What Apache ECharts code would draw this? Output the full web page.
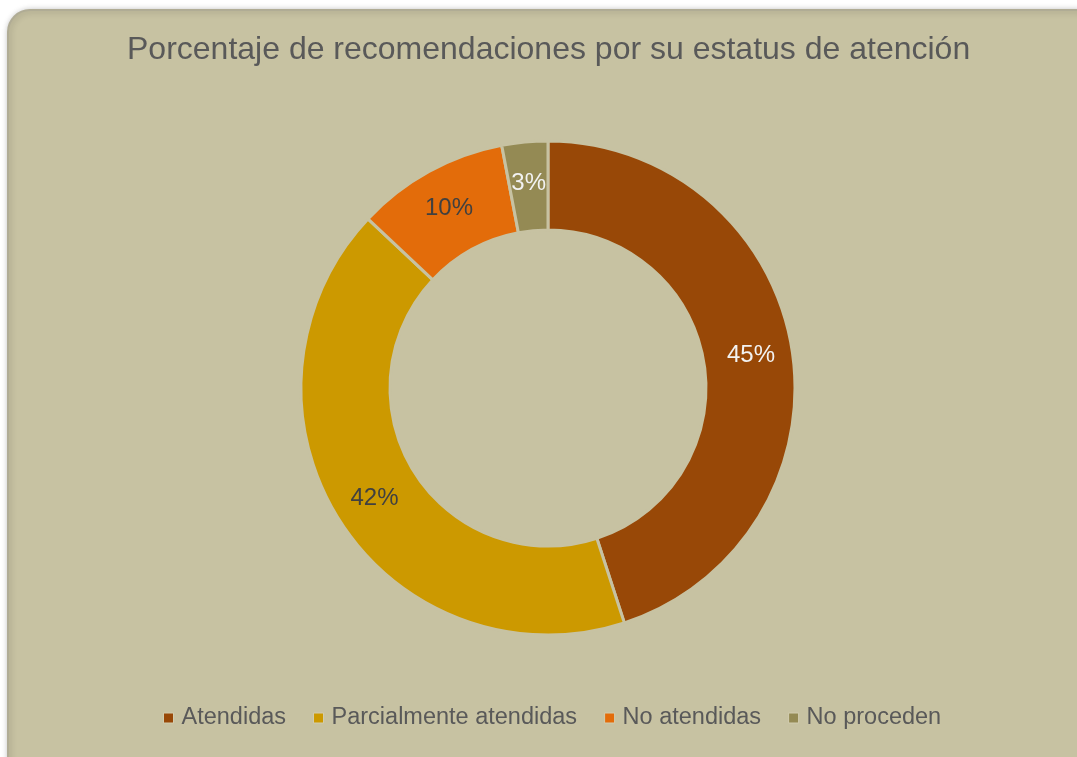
<!DOCTYPE html>
<html><head><meta charset="utf-8">
<script src="https://cdn.jsdelivr.net/npm/echarts@6/dist/echarts.min.js"></script>
<style>html,body{margin:0;padding:0;background:#fff;}#c{width:1077px;height:757px;}</style>
</head><body><div id="c"></div>
<script>
const categories = ['Atendidas', 'Parcialmente atendidas', 'No atendidas', 'No proceden'];
const values = [45, 42, 10, 3];
const colors = ['#984807', '#CC9900', '#E36C0A', '#948A54'];
const labelColors = ['#F2F2F2', '#404040', '#404040', '#F2F2F2'];

const chart = echarts.init(document.getElementById('c'), null, {renderer: 'canvas'});
chart.setOption({
  animation: false,
  backgroundColor: '#ffffff',
  graphic: [{
    type: 'rect', z: -10, silent: true,
    shape: {x: 8, y: 10, width: 1090, height: 770, r: 22},
    style: {fill: '#C7C2A2', stroke: '#B0AC95', lineWidth: 2, shadowBlur: 6, shadowColor: 'rgba(0,0,0,0.25)', shadowOffsetX: 1, shadowOffsetY: 1}
  }],
  title: {
    text: 'Porcentaje de recomendaciones por su estatus de atención',
    left: 122, top: 29,
    textStyle: {fontFamily: 'Liberation Sans, Arial, sans-serif', fontSize: 32, fontWeight: 'normal', color: '#595959'}
  },
  legend: {
    bottom: 22, left: 158,
    itemWidth: 10, itemHeight: 10, itemGap: 27, icon: 'rect',
    itemStyle: {borderColor: '#D2CDB0', borderWidth: 1},
    textStyle: {fontFamily: 'Liberation Sans, Arial, sans-serif', fontSize: 23.5, color: '#595959', padding: [0, 0, 0, 3]},
    data: categories
  },
  series: [{
    type: 'pie',
    center: [548, 388],
    radius: [158, 247],
    startAngle: 90,
    clockwise: true,
    avoidLabelOverlap: false,
    itemStyle: {borderColor: '#C7C2A2', borderWidth: 3},
    label: {
      show: true, position: 'inside',
      fontFamily: 'Liberation Sans, Arial, sans-serif', fontSize: 24,
      formatter: p => p.value + '%'
    },
    labelLine: {show: false},
    data: categories.map((n, i) => ({
      name: n, value: values[i],
      itemStyle: {color: colors[i]},
      label: {color: labelColors[i]}
    }))
  }]
});
</script></body></html>
